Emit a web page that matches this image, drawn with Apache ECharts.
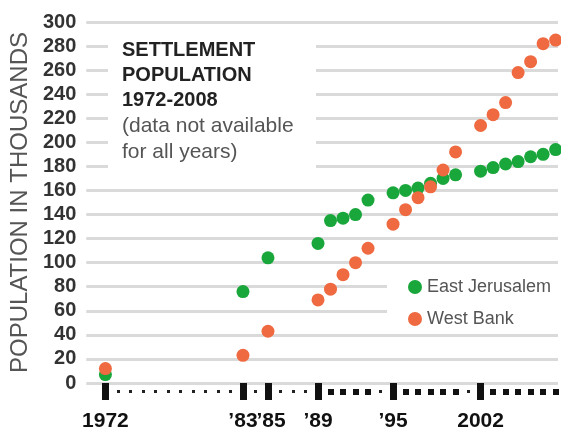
<!DOCTYPE html>
<html>
<head>
<meta charset="utf-8">
<script src="https://cdn.jsdelivr.net/npm/echarts@6/dist/echarts.min.js"></script>
<style>html,body{margin:0;padding:0;background:#fff}#c{width:561px;height:437px}</style>
</head>
<body>
<div id="c"></div>
<script>
// Data (population in thousands)
var years = [1972,1983,1985,1989,1990,1991,1992,1993,1995,1996,1997,1998,1999,2000,2002,2003,2004,2005,2006,2007,2008];
var eastJerusalem = [7,76,104,116,135,137,140,152,158,160,162,166,170,173,176,179,182,184,188,190,194];
var westBank = [12,23,43,69,78,90,100,112,132,144,154,163,177,192,214,223,233,258,267,282,285];
var labeledYears = [1972,1983,1985,1989,1995,2002];
var labelText = {1972:'1972',1983:'\u201983',1985:'{s|\u201985}',1989:'\u201989',1995:'\u201995',2002:'2002'};
var allYears = [];
for (var y = 1972; y <= 2008; y++) allYears.push(y);
var dataYearsUnlabeled = years.filter(function(v){return labeledYears.indexOf(v) < 0;});
var noDataYears = allYears.filter(function(v){return years.indexOf(v) < 0;});
var yTicks = {min:0, max:300, step:20};

var FONT = 'Liberation Sans, Arial, sans-serif';
var xMin = 1970.47, xMax = 2008.19;

function pairs(vals){ return years.map(function(y,i){return [y, vals[i]];}); }

var chart = echarts.init(document.getElementById('c'), null, {renderer:'canvas'});
chart.setOption({
  animation:false,
  backgroundColor:'#fff',
  grid:{left:82, right:3, top:22, bottom:54},
  title:{
    text:'SETTLEMENT\nPOPULATION\n1972-2008',
    subtext:'(data not available\nfor all years)',
    left:117, top:33, itemGap:0, z:10,
    textStyle:{fontFamily:FONT, fontSize:20, fontWeight:'bold', color:'#222', lineHeight:25},
    subtextStyle:{fontFamily:FONT, fontSize:21, color:'#555', lineHeight:26}
  },
  graphic:[{type:'rect', shape:{x:108, y:31, width:208, height:147}, style:{fill:'#fff'}, z:5, silent:true}],
  legend:{
    orient:'vertical', left:387, top:272, padding:[6,13,5,21], itemGap:14,
    itemWidth:14, itemHeight:14, icon:'circle', backgroundColor:'#fff', z:10,
    textStyle:{fontFamily:FONT, fontSize:18, color:'#555'},
    data:['East Jerusalem','West Bank']
  },
  xAxis:[{
    type:'value', min:xMin, max:xMax, position:'bottom', offset:5,
    axisLine:{show:false}, splitLine:{show:false},
    axisTick:{show:true, customValues:labeledYears, length:17, lineStyle:{width:7, color:'#111'}},
    axisLabel:{show:true, customValues:labeledYears, margin:23,
      formatter:function(v){return labelText[v] || '';},
      fontFamily:FONT, fontSize:21, fontWeight:'bold', color:'#111',
      rich:{s:{fontFamily:FONT, fontSize:21, fontWeight:'bold', color:'#111', padding:[0,0,0,6]}}}
  },{
    type:'value', min:xMin, max:xMax, position:'bottom', offset:6,
    axisLine:{show:false}, splitLine:{show:false}, axisLabel:{show:false},
    axisTick:{show:true, customValues:dataYearsUnlabeled, length:6, lineStyle:{width:6, color:'#111'}}
  },{
    type:'value', min:xMin, max:xMax, position:'bottom', offset:7,
    axisLine:{show:false}, splitLine:{show:false}, axisLabel:{show:false},
    axisTick:{show:true, customValues:noDataYears, length:3, lineStyle:{width:3, color:'#222'}}
  }],
  yAxis:{
    type:'value', min:yTicks.min, max:yTicks.max, interval:yTicks.step,
    name:'POPULATION IN THOUSANDS', nameLocation:'middle', nameGap:53, nameRotate:90,
    nameTextStyle:{fontFamily:FONT, fontSize:24, color:'#555'},
    axisLine:{show:false}, axisTick:{show:false},
    axisLabel:{margin:10, fontFamily:FONT, fontSize:20, fontWeight:'bold', color:'#333'},
    splitLine:{lineStyle:{color:'#dadada', width:3}}
  },
  series:[{
    name:'East Jerusalem', type:'scatter', xAxisIndex:0, symbolSize:13,
    itemStyle:{color:'#19a63a', opacity:1}, data:pairs(eastJerusalem), z:3
  },{
    name:'West Bank', type:'scatter', xAxisIndex:0, symbolSize:13,
    itemStyle:{color:'#ef6a40', opacity:1}, data:pairs(westBank), z:4
  }]
});
</script>
</body>
</html>
